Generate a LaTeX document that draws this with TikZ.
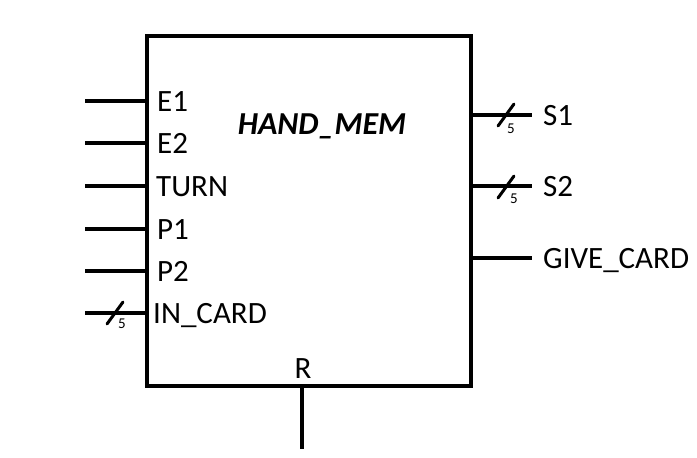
\documentclass[tikz,border=0pt]{standalone}
\usepackage{fontspec}
\setmainfont{Carlito}
\usetikzlibrary{calc}
\begin{document}
\begin{tikzpicture}[x=1pt,y=-1pt,
  wire/.style={line width=4pt},
  tick/.style={line width=3pt,line cap=round},
  pinlbl/.style={anchor=base west,inner sep=0pt,font=\fontsize{31}{32}\selectfont},
  buslbl/.style={inner sep=0pt,font=\fontsize{15}{16}\selectfont}]
\useasboundingbox (0,0) rectangle (697,458);
\node[draw,line width=4pt,minimum width=324pt,minimum height=350pt,inner sep=0pt] (box) at (309,211) {};
\node[inner sep=0pt,anchor=base,font=\fontsize{32}{33}\selectfont\bfseries\itshape] (title) at (322,134) {HAND\_MEM};
% left inputs
\foreach \n/\y/\t/\lx in {e1/101/E1/157, e2/143/E2/157, turn/186/TURN/156, p1/229/P1/157, p2/271/P2/157, incard/313/IN\_CARD/153}{
  \coordinate (\n s) at (85,\y);
  \draw[wire] (\n s) -- (\n s -| box.west);
  \node[pinlbl] (\n l) at (\lx,\y+10) {\t};
}
% right outputs
\foreach \n/\y/\t in {s1/115/S1, s2/186/S2, give/258/GIVE\_CARD}{
  \coordinate (\n e) at (532,\y);
  \draw[wire] (\n e -| box.east) -- (\n e);
  \node[pinlbl] (\n l) at (543,\y+10) {\t};
}
% bus ticks
\coordinate (t1) at (115,313);
\draw[tick] ($(t1)+(-8,11)$) -- ($(t1)+(8,-11)$);
\node[buslbl] (b1) at (122,324) {5};
\coordinate (t2) at (506,115);
\draw[tick] ($(t2)+(-8,11)$) -- ($(t2)+(8,-11)$);
\node[buslbl] (b2) at (511,129) {5};
\coordinate (t3) at (506,187);
\draw[tick] ($(t3)+(-8,11)$) -- ($(t3)+(8,-11)$);
\node[buslbl] (b3) at (514,199) {5};
% reset
\coordinate (rend) at (302,449);
\draw[wire] (rend |- box.south) -- (rend);
\node[pinlbl,anchor=base] (rl) at (303,378) {R};
\end{tikzpicture}
\end{document}
